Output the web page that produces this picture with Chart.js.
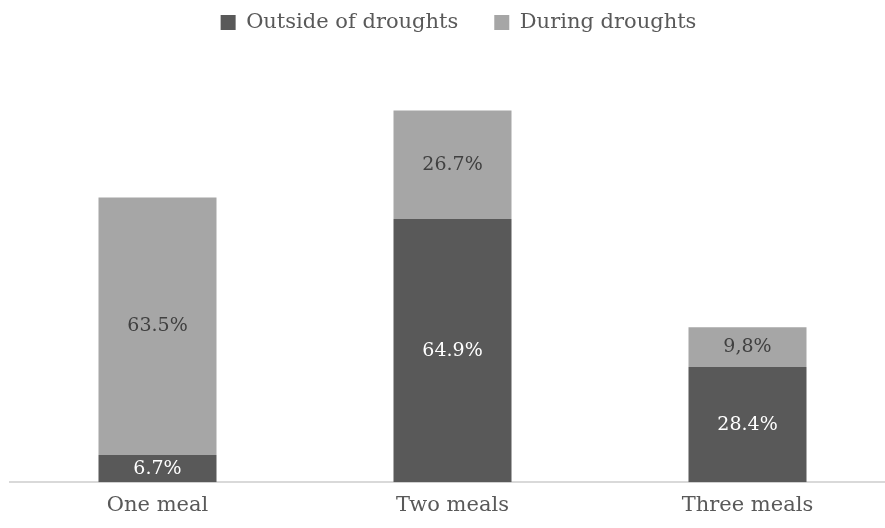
<!DOCTYPE html>
<html>
<head>
<meta charset="utf-8">
<title>Meals per day</title>
<script src="https://cdn.jsdelivr.net/npm/chart.js@4/dist/chart.umd.min.js"></script>
<style>
  html, body { margin: 0; padding: 0; background: #fff; overflow: hidden; }
  #wrap { width: 895px; height: 528px; }
</style>
</head>
<body>
<div id="wrap"><canvas id="mealChart" width="895" height="528"></canvas></div>
<script>
const categories = ['One meal', 'Two meals', 'Three meals'];
const outsideValues = [6.7, 64.9, 28.4];
const duringValues = [63.5, 26.7, 9.8];
const outsideLabels = ['6.7%', '64.9%', '28.4%'];
const duringLabels = ['63.5%', '26.7%', '9,8%'];

const FONT = '"DejaVu Serif", serif';

// extra room under the legend, and nudge it a little to the right
const legendPlacement = {
  id: 'legendPlacement',
  beforeInit(chart) {
    const legend = chart.legend;
    const fit = legend.fit;
    const draw = legend.draw;
    legend.fit = function () {
      fit.call(legend);
      this.height += 33.5;
    };
    legend.draw = function () {
      chart.ctx.save();
      chart.ctx.translate(6, 0);
      draw.call(legend);
      chart.ctx.restore();
    };
  }
};

// writes the percentage in the middle of each stacked segment
const segmentLabels = {
  id: 'segmentLabels',
  afterDatasetsDraw(chart) {
    const c = chart.ctx;
    c.save();
    c.font = '19px ' + FONT;
    c.textAlign = 'center';
    c.textBaseline = 'middle';
    chart.data.datasets.forEach((ds, i) => {
      chart.getDatasetMeta(i).data.forEach((bar, j) => {
        const p = bar.getProps(['x', 'y', 'base'], true);
        c.fillStyle = ds.labelColor;
        c.fillText(ds.valueLabels[j], p.x, (p.y + p.base) / 2);
      });
    });
    c.restore();
  }
};

new Chart(document.getElementById('mealChart').getContext('2d'), {
  type: 'bar',
  data: {
    labels: categories,
    datasets: [{
      label: 'Outside of droughts',
      data: outsideValues,
      valueLabels: outsideLabels,
      labelColor: '#ffffff',
      backgroundColor: '#595959'
    }, {
      label: 'During droughts',
      data: duringValues,
      valueLabels: duringLabels,
      labelColor: '#404040',
      backgroundColor: '#a6a6a6'
    }]
  },
  options: {
    responsive: false,
    animation: false,
    layout: { padding: { left: 10, right: 0, top: -24, bottom: 6.5 } },
    datasets: { bar: { categoryPercentage: 1, barPercentage: 0.4 } },
    plugins: {
      legend: {
        position: 'top',
        labels: {
          boxWidth: 15,
          boxHeight: 15,
          padding: 36,
          color: '#595959',
          font: { family: FONT, size: 21 }
        }
      },
      tooltip: { enabled: false }
    },
    scales: {
      x: {
        stacked: true,
        grid: { display: false },
        border: { color: '#d9d9d9', width: 2 },
        ticks: { color: '#595959', font: { family: FONT, size: 21 }, padding: 3 }
      },
      y: {
        stacked: true,
        display: false,
        min: 0,
        max: 100
      }
    }
  },
  plugins: [legendPlacement, segmentLabels]
});
</script>
</body>
</html>
